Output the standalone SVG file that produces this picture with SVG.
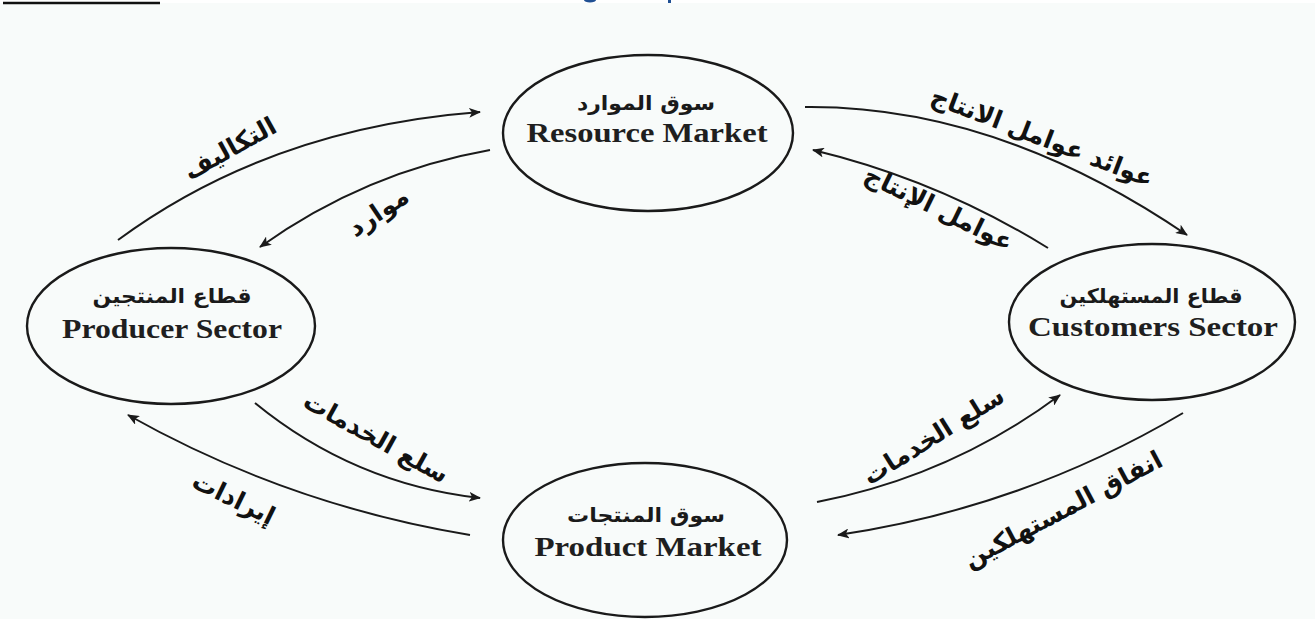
<svg xmlns="http://www.w3.org/2000/svg" width="1315" height="619" viewBox="0 0 1315 619">
<defs>
<marker id="ah" viewBox="0 0 12 10" refX="11" refY="5" markerWidth="12" markerHeight="10" markerUnits="userSpaceOnUse" orient="auto">
<path d="M0,0 L12,5 L0,10 L3,5 Z" fill="#1a1a1a"/>
</marker>
<style>
.node{fill:none;stroke:#1a1a1a;stroke-width:2.4}
.ar{font-family:"DejaVu Sans",sans-serif;font-weight:bold;fill:#1a1a1a;text-anchor:middle;font-size:20px}
.en{font-family:"Liberation Serif",serif;font-weight:bold;fill:#1f1f1f;text-anchor:middle;font-size:27px}
.conn{fill:none;stroke:#1a1a1a;stroke-width:2;marker-end:url(#ah)}
.lbl{font-family:"DejaVu Sans",sans-serif;font-weight:bold;fill:#111;text-anchor:middle;font-size:25px}
</style>
</defs>
<rect x="0" y="0" width="1315" height="619" fill="#f8fbfa"/>
<rect x="0" y="0" width="1315" height="3" fill="#ffffff"/>
<line x1="3" y1="3" x2="160" y2="3" stroke="#111" stroke-width="2.5"/>
<ellipse cx="590" cy="0" rx="6" ry="2.5" fill="#1f4f93"/>
<rect x="668" y="0" width="3" height="3" fill="#1f4f93"/>

<g id="resource-market">
<ellipse class="node" cx="648" cy="133" rx="145" ry="78"/>
<text class="ar" x="646" y="110" textLength="138" lengthAdjust="spacingAndGlyphs">سوق الموارد</text>
<text class="en" x="647" y="142" textLength="241" lengthAdjust="spacingAndGlyphs">Resource Market</text>
</g>
<g id="producer-sector">
<ellipse class="node" cx="171" cy="326" rx="144" ry="78"/>
<text class="ar" x="172" y="303" textLength="159" lengthAdjust="spacingAndGlyphs">قطاع المنتجين</text>
<text class="en" x="172" y="338" textLength="220" lengthAdjust="spacingAndGlyphs">Producer Sector</text>
</g>
<g id="customers-sector">
<ellipse class="node" cx="1152" cy="322" rx="143" ry="78"/>
<text class="ar" x="1151" y="303" textLength="183" lengthAdjust="spacingAndGlyphs">قطاع المستهلكين</text>
<text class="en" x="1153" y="336" textLength="250" lengthAdjust="spacingAndGlyphs">Customers Sector</text>
</g>
<g id="product-market">
<ellipse class="node" cx="645" cy="540" rx="142" ry="77"/>
<text class="ar" x="646" y="522" textLength="158" lengthAdjust="spacingAndGlyphs">سوق المنتجات</text>
<text class="en" x="648" y="556" textLength="227" lengthAdjust="spacingAndGlyphs">Product Market</text>
</g>

<g id="connectors">
<path class="conn" d="M118,240 Q270,128 480,112"/>
<path class="conn" d="M490,150 Q365,172 260,247"/>
<path class="conn" d="M805,107 Q996,105 1187,235"/>
<path class="conn" d="M1048,248 Q938,180 813,150"/>
<path class="conn" d="M255,403 Q354,484 480,498"/>
<path class="conn" d="M470,535 Q288,505 128,415"/>
<path class="conn" d="M817,502 Q951,476 1060,395"/>
<path class="conn" d="M1183,413 Q1022,508 838,535"/>
</g>

<g id="labels">
<text class="lbl" transform="translate(234,156) rotate(-29)">التكاليف</text>
<text class="lbl" transform="translate(383,219) rotate(-34)">موارد</text>
<text class="lbl" transform="translate(1039,145) rotate(21)">عوائد عوامل الانتاج</text>
<text class="lbl" transform="translate(935,216) rotate(26)">عوامل الإنتاج</text>
<text class="lbl" transform="translate(372,445) rotate(29)">سلع الخدمات</text>
<text class="lbl" transform="translate(230,506) rotate(26)">إيرادات</text>
<text class="lbl" transform="translate(938,443) rotate(-32)">سلع الخدمات</text>
<text class="lbl" transform="translate(1067,517) rotate(-28)">انفاق المستهلكين</text>
</g>
</svg>
